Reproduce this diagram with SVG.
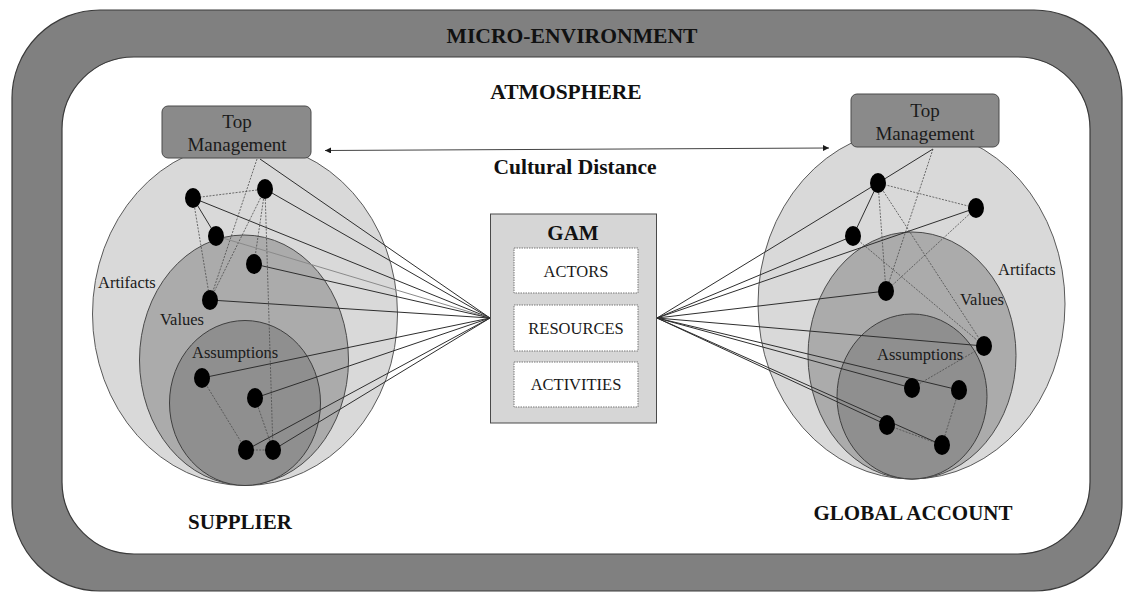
<svg xmlns="http://www.w3.org/2000/svg" width="1134" height="596" viewBox="0 0 1134 596">
  <defs>
    <marker id="tip" viewBox="0 0 10 10" refX="10" refY="5" markerWidth="8" markerHeight="6" markerUnits="userSpaceOnUse" orient="auto-start-reverse">
      <path d="M0,0 L10,5 L0,10 Z" fill="#1a1a1a"/>
    </marker>
    <style>
      .head { font-family: "Liberation Serif", "Times New Roman", serif; font-weight: bold; fill: #111; text-anchor: middle; }
      .lbl { font-family: "Liberation Serif", "Times New Roman", serif; fill: #1a1a1a; }
      .mid { text-anchor: middle; }
      .art { fill: #d9d9d9; stroke: #5a5a5a; stroke-width: 1; }
      .val { fill: #ababab; stroke: #4a4a4a; stroke-width: 1; }
      .ass { fill: #8f8f8f; stroke: #3f3f3f; stroke-width: 1; }
      .dot { fill: #000; }
      .solid { stroke: #2e2e2e; stroke-width: 1; fill: none; }
      .faint { stroke: #8a8a8a; stroke-width: 1; fill: none; }
      .dash { stroke: #4d4d4d; stroke-width: 0.8; stroke-dasharray: 2 1.3; fill: none; }
      .tm { fill: #8a8a8a; stroke: #4a4a4a; stroke-width: 1; }
      .box { fill: #fff; stroke: #777; stroke-width: 1; stroke-dasharray: 1.5 1; }
    </style>
  </defs>

  <!-- environment frame -->
  <g id="micro-environment">
    <rect x="12" y="10" width="1110" height="581" rx="88" ry="88" fill="#808080" stroke="#3a3a3a" stroke-width="1.2"/>
    <rect x="62" y="57" width="1028" height="497" rx="72" ry="72" fill="#fff" stroke="#3a3a3a" stroke-width="1.2"/>
    <text class="head" x="572" y="43" font-size="22" textLength="251" lengthAdjust="spacingAndGlyphs">MICRO-ENVIRONMENT</text>
  </g>

  <g id="atmosphere">
    <text class="head" x="566" y="99" font-size="21.5">ATMOSPHERE</text>
  </g>

  <!-- supplier culture layers -->
  <g id="supplier">
    <ellipse class="art" cx="245" cy="314" rx="152.5" ry="171.5"/>
    <ellipse class="val" cx="244" cy="360" rx="104.5" ry="125"/>
    <ellipse class="ass" cx="245" cy="403" rx="75.5" ry="82.5"/>
    <text class="lbl" x="98" y="288" font-size="16.5">Artifacts</text>
    <text class="lbl" x="160" y="325" font-size="16.5">Values</text>
    <text class="lbl" x="192" y="358" font-size="16.5">Assumptions</text>
    <text class="head" x="240" y="529" font-size="21">SUPPLIER</text>
  </g>

  <!-- global account culture layers -->
  <g id="global-account">
    <ellipse class="art" cx="911.5" cy="304" rx="153.5" ry="175"/>
    <ellipse class="val" cx="912" cy="355.5" rx="104" ry="123.5"/>
    <ellipse class="ass" cx="912" cy="396.5" rx="75" ry="82.5"/>
    <text class="lbl" x="998" y="275" font-size="16.5">Artifacts</text>
    <text class="lbl" x="960" y="305" font-size="16.5">Values</text>
    <text class="lbl" x="877" y="360" font-size="16.5">Assumptions</text>
    <text class="head" x="913" y="520" font-size="21">GLOBAL ACCOUNT</text>
  </g>

  <!-- connectors -->
  <g id="connectors">
    <!-- supplier internal links -->
    <line class="dash" x1="193" y1="198" x2="265" y2="189"/>
    <line class="dash" x1="193" y1="198" x2="210" y2="300"/>
    <line class="dash" x1="265" y1="189" x2="210" y2="300"/>
    <line class="dash" x1="257" y1="159" x2="210" y2="300"/>
    <line class="dash" x1="265" y1="189" x2="254" y2="264"/>
    <line class="dash" x1="265" y1="189" x2="273" y2="450"/>
    <line class="dash" x1="202" y1="378" x2="246" y2="450"/>
    <line class="dash" x1="255" y1="398" x2="273" y2="450"/>
    <line class="dash" x1="246" y1="450" x2="273" y2="450"/>
    <line class="solid" x1="193" y1="198" x2="216" y2="236"/>
    <!-- supplier to GAM -->
    <line class="solid" x1="260" y1="159" x2="490" y2="318"/>
    <line class="solid" x1="265" y1="189" x2="490" y2="318"/>
    <line class="solid" x1="193" y1="198" x2="490" y2="318"/>
    <line class="faint" x1="216" y1="236" x2="490" y2="318"/>
    <line class="solid" x1="254" y1="264" x2="490" y2="318"/>
    <line class="solid" x1="210" y1="300" x2="490" y2="318"/>
    <line class="solid" x1="202" y1="378" x2="490" y2="318"/>
    <line class="solid" x1="255" y1="398" x2="490" y2="318"/>
    <line class="solid" x1="246" y1="450" x2="490" y2="318"/>
    <line class="solid" x1="273" y1="450" x2="490" y2="318"/>

    <!-- global account internal links -->
    <line class="solid" x1="933" y1="149" x2="878" y2="183"/>
    <line class="solid" x1="878" y1="183" x2="853" y2="236"/>
    <line class="dash" x1="933" y1="149" x2="886" y2="291"/>
    <line class="dash" x1="878" y1="183" x2="976" y2="208"/>
    <line class="dash" x1="878" y1="183" x2="886" y2="291"/>
    <line class="dash" x1="878" y1="183" x2="984" y2="346"/>
    <line class="dash" x1="853" y1="236" x2="984" y2="346"/>
    <line class="dash" x1="976" y1="208" x2="886" y2="291"/>
    <line class="dash" x1="984" y1="346" x2="912" y2="388"/>
    <line class="dash" x1="959" y1="390" x2="942" y2="445"/>
    <line class="dash" x1="887" y1="425" x2="942" y2="445"/>
    <!-- global account to GAM -->
    <line class="solid" x1="878" y1="183" x2="657" y2="318"/>
    <line class="solid" x1="976" y1="208" x2="657" y2="318"/>
    <line class="solid" x1="853" y1="236" x2="657" y2="318"/>
    <line class="solid" x1="886" y1="291" x2="657" y2="318"/>
    <line class="solid" x1="984" y1="346" x2="657" y2="318"/>
    <line class="solid" x1="912" y1="388" x2="657" y2="318"/>
    <line class="solid" x1="959" y1="390" x2="657" y2="318"/>
    <line class="solid" x1="887" y1="425" x2="657" y2="318"/>
    <line class="solid" x1="942" y1="445" x2="657" y2="318"/>

    <!-- cultural distance -->
    <line x1="325" y1="150.5" x2="829" y2="148" stroke="#444" stroke-width="1" marker-start="url(#tip)" marker-end="url(#tip)"/>
  </g>

  <g id="cultural-distance">
    <text class="head" x="575" y="174" font-size="21.5">Cultural Distance</text>
  </g>

  <!-- member dots -->
  <g id="supplier-members">
    <ellipse class="dot" cx="193" cy="198" rx="8" ry="10"/>
    <ellipse class="dot" cx="265" cy="189" rx="8" ry="10"/>
    <ellipse class="dot" cx="216" cy="236" rx="8" ry="10"/>
    <ellipse class="dot" cx="254" cy="264" rx="8" ry="10"/>
    <ellipse class="dot" cx="210" cy="300" rx="8" ry="10"/>
    <ellipse class="dot" cx="202" cy="378" rx="8" ry="10"/>
    <ellipse class="dot" cx="255" cy="398" rx="8" ry="10"/>
    <ellipse class="dot" cx="246" cy="450" rx="8" ry="10"/>
    <ellipse class="dot" cx="273" cy="450" rx="8" ry="10"/>
  </g>
  <g id="global-account-members">
    <ellipse class="dot" cx="878" cy="183" rx="8" ry="10"/>
    <ellipse class="dot" cx="976" cy="208" rx="8" ry="10"/>
    <ellipse class="dot" cx="853" cy="236" rx="8" ry="10"/>
    <ellipse class="dot" cx="886" cy="291" rx="8" ry="10"/>
    <ellipse class="dot" cx="984" cy="346" rx="8" ry="10"/>
    <ellipse class="dot" cx="912" cy="388" rx="8" ry="10"/>
    <ellipse class="dot" cx="959" cy="390" rx="8" ry="10"/>
    <ellipse class="dot" cx="887" cy="425" rx="8" ry="10"/>
    <ellipse class="dot" cx="942" cy="445" rx="8" ry="10"/>
  </g>

  <!-- top management boxes -->
  <g id="supplier-top-management">
    <rect class="tm" x="162" y="106" width="149" height="52" rx="6" ry="6"/>
    <text class="lbl mid" x="237" y="128" font-size="19">Top</text>
    <text class="lbl mid" x="237" y="151" font-size="19">Management</text>
  </g>
  <g id="account-top-management">
    <rect class="tm" x="851" y="94" width="148" height="53" rx="6" ry="6"/>
    <text class="lbl mid" x="925" y="117" font-size="19">Top</text>
    <text class="lbl mid" x="925" y="140" font-size="19">Management</text>
  </g>

  <!-- GAM box -->
  <g id="gam">
    <rect x="490.5" y="214" width="166" height="209" fill="#d6d6d6" stroke="#4a4a4a" stroke-width="1"/>
    <text class="head" x="573" y="240" font-size="21">GAM</text>
  </g>
  <g id="actors">
    <rect class="box" x="514" y="248" width="124" height="45"/>
    <text class="lbl mid" x="576" y="277" font-size="16.5">ACTORS</text>
  </g>
  <g id="resources">
    <rect class="box" x="514" y="305" width="124" height="46"/>
    <text class="lbl mid" x="576" y="334" font-size="16.5">RESOURCES</text>
  </g>
  <g id="activities">
    <rect class="box" x="514" y="362" width="124" height="45"/>
    <text class="lbl mid" x="576" y="390" font-size="16.5">ACTIVITIES</text>
  </g>
</svg>
